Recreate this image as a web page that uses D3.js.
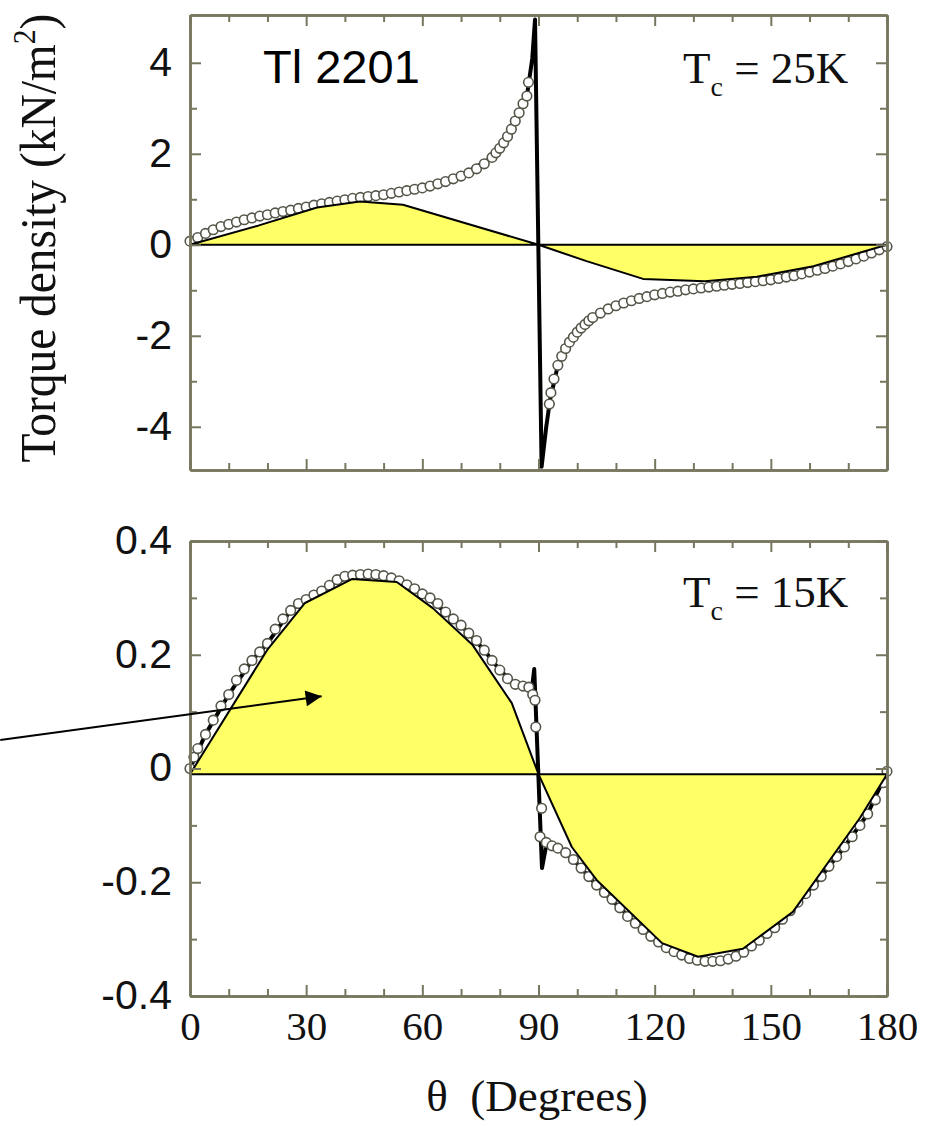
<!DOCTYPE html>
<html>
<head>
<meta charset="utf-8">
<script src="https://cdn.jsdelivr.net/npm/d3@7"></script>
<style>
  body { margin: 0; background: #fff; }
  svg { display: block; }
</style>
</head>
<body>
<svg id="chart" width="927" height="1126"></svg>
<script>
// ---- data ----
const xTicks = [0, 30, 60, 90, 120, 150, 180];
const xTickLabels = ["0", "30", "60", "90", "120", "150", "180"];
const xMinor = d3.range(0, 181, 10);

const topTicks = [-4, -2, 0, 2, 4];
const topTickLabels = ["-4", "-2", "0", "2", "4"];
const topMinor = [-4, -3, -2, -1, 0, 1, 2, 3, 4];
const botTicks = [-0.4, -0.2, 0, 0.2, 0.4];
const botTickLabels = ["-0.4", "-0.2", "0", "0.2", "0.4"];
const botMinor = [-0.3, -0.2, -0.1, 0, 0.1, 0.2, 0.3];

// Tc = 25K: measured torque (open circles)
const topTheta = [0, 2, 4, 6, 8, 10, 12, 14, 16, 18, 20, 22, 24, 26, 28, 30, 32, 34, 36, 38,
  40, 42, 44, 46, 48, 50, 52, 54, 56, 58, 60, 62, 64, 66, 68, 70, 72, 74, 76, 78,
  79, 80, 81, 82, 83, 84, 85, 86, 87, 87.4,
  92.8, 93.2, 94, 95, 96, 97, 98, 99, 100, 101, 102, 103, 104, 106, 108, 110, 112, 114, 116, 118,
  120, 122, 124, 126, 128, 130, 132, 134, 136, 138, 140, 142, 144, 146, 148, 150, 152, 154, 156, 158,
  160, 162, 164, 166, 168, 170, 172, 174, 176, 178, 180];
const topTorque = [0.08, 0.16, 0.25, 0.33, 0.40, 0.45, 0.50, 0.55, 0.59, 0.63, 0.66, 0.70, 0.73, 0.76, 0.80, 0.83, 0.87, 0.90, 0.93, 0.96,
  0.99, 1.02, 1.04, 1.06, 1.08, 1.10, 1.13, 1.16, 1.19, 1.22, 1.25, 1.29, 1.34, 1.39, 1.45, 1.51, 1.58, 1.67, 1.78, 1.92,
  2.02, 2.12, 2.24, 2.38, 2.54, 2.72, 2.90, 3.10, 3.27, 3.57,
  -3.50, -3.25, -2.95, -2.65, -2.45, -2.28, -2.14, -2.03, -1.92, -1.83, -1.75, -1.67, -1.60, -1.50, -1.41, -1.34, -1.28, -1.23, -1.18, -1.14,
  -1.10, -1.07, -1.04, -1.02, -0.99, -0.97, -0.95, -0.93, -0.91, -0.89, -0.87, -0.85, -0.83, -0.81, -0.79, -0.77, -0.74, -0.71, -0.68, -0.64,
  -0.60, -0.56, -0.52, -0.47, -0.42, -0.37, -0.31, -0.25, -0.18, -0.11, -0.04];

// Tc = 25K: fitted curve (thick black)
const topFitTheta = [0, 10, 20, 30, 40, 50, 60, 70, 78, 82, 85, 87, 88.4, 89.1, 90.8, 92, 93, 95, 99, 104,
  110, 120, 130, 140, 150, 160, 170, 180];
const topFitTorque = [0.08, 0.45, 0.66, 0.83, 0.99, 1.10, 1.25, 1.51, 1.92, 2.38, 2.90, 3.27, 4.10, 4.95, -4.88, -4.00, -3.40, -2.65, -2.03, -1.60,
  -1.34, -1.10, -0.97, -0.87, -0.77, -0.60, -0.37, -0.04];

// Tc = 25K: yellow model overlay
const topModelTheta = [0, 17.6, 32.8, 43.9, 55, 90, 102.4, 117, 133, 146.4, 161, 180];
const topModelTorque = [0, 0.42, 0.82, 0.95, 0.88, 0, -0.36, -0.75, -0.80, -0.70, -0.47, 0];

// Tc = 15K: measured torque (open circles)
const botTheta = [0, 1, 2, 4, 6, 8, 10, 12, 14, 16, 18, 20, 22, 24, 26, 28, 30, 32, 34, 36,
  38, 40, 42, 44, 46, 48, 50, 52, 54, 56, 58, 60, 62, 64, 66, 68, 70, 72, 74, 76,
  78, 80, 82, 84, 86, 87.5, 88.5, 89.1, 89.3,
  90.4, 90.8, 92, 93.5, 95, 97, 99, 101, 103, 105, 107, 109, 111, 113, 115, 117, 119, 121, 123, 125,
  127, 129, 131, 133, 135, 137, 139, 141, 143, 145, 147, 149, 151, 153, 155, 157, 159, 161, 163, 165,
  167, 169, 171, 173, 175, 177, 179, 180];
const botTorque = [0.0, 0.02, 0.035, 0.06, 0.085, 0.11, 0.13, 0.155, 0.175, 0.19, 0.205, 0.22, 0.245, 0.263, 0.278, 0.29, 0.297, 0.305, 0.312, 0.322,
  0.332, 0.338, 0.340, 0.341, 0.342, 0.341, 0.339, 0.335, 0.330, 0.323, 0.316, 0.307, 0.300, 0.290, 0.275, 0.263, 0.252, 0.238, 0.225, 0.208,
  0.190, 0.173, 0.158, 0.148, 0.145, 0.143, 0.130, 0.120, 0.073,
  -0.12, -0.07, -0.13, -0.136, -0.14, -0.148, -0.16, -0.175, -0.19, -0.205, -0.218, -0.23, -0.245, -0.26, -0.272, -0.283, -0.295, -0.305, -0.315, -0.322,
  -0.328, -0.334, -0.337, -0.339, -0.339, -0.338, -0.335, -0.330, -0.323, -0.312, -0.302, -0.290, -0.280, -0.265, -0.250, -0.235, -0.220, -0.205, -0.190, -0.172,
  -0.155, -0.138, -0.120, -0.100, -0.080, -0.055, -0.025, -0.005];

// Tc = 15K: fitted curve
const botFitTheta = [0, 4, 10, 16, 20, 26, 30, 36, 42, 46, 50, 56, 60, 66, 70, 76, 80, 84, 86, 88.3,
  88.9, 90.9, 92, 95, 99, 105, 111, 117, 123, 129, 133, 137, 141, 145, 151, 157, 163, 169, 175, 180];
const botFitTorque = [0.0, 0.06, 0.13, 0.19, 0.22, 0.278, 0.297, 0.322, 0.340, 0.342, 0.339, 0.323, 0.307, 0.275, 0.252, 0.208, 0.173, 0.148, 0.145, 0.14,
  0.175, -0.175, -0.135, -0.14, -0.16, -0.205, -0.245, -0.283, -0.315, -0.334, -0.339, -0.338, -0.330, -0.312, -0.280, -0.235, -0.190, -0.138, -0.080, -0.005];

// Tc = 15K: yellow model overlay
const botModelTheta = [0, 19.9, 29.7, 41.8, 53.4, 62.7, 73, 83.1, 90, 98.6, 105, 121.9, 131.2, 142.8, 155.7, 173, 180];
const botModelTorque = [-0.01, 0.208, 0.291, 0.333, 0.328, 0.282, 0.217, 0.115, -0.01, -0.138, -0.196, -0.307, -0.331, -0.317, -0.252, -0.087, -0.01];
const botModelBase = -0.01;

// arrow annotation (bottom panel data coords)
const arrowFrom = [-49, 0.05];
const arrowTo = [34, 0.127];

// ---- drawing ----
const svg = d3.select('#chart');
const frameColor = '#77775f';
const serif = '"Liberation Serif", "DejaVu Serif", serif';
const sans = '"Liberation Sans", Arial, sans-serif';

const x = d3.scaleLinear().domain([0, 180]).range([190, 887]);
const yTop = d3.scaleLinear().domain([-4.95, 5.05]).range([470, 15]);
const yBot = d3.scaleLinear().domain([-0.4, 0.4]).range([996, 541]);

svg.append('defs').append('marker')
    .attr('id', 'arrow-head')
    .attr('viewBox', '0 -5 10 10')
    .attr('refX', 10)
    .attr('refY', 0)
    .attr('markerWidth', 9)
    .attr('markerHeight', 8)
    .attr('markerUnits', 'strokeWidth')
    .attr('orient', 'auto')
    .append('path')
    .attr('d', 'M0,-5L10,0L0,5Z')
    .attr('fill', '#000');

function styleAxis(g) {
    g.select('.domain').attr('stroke', frameColor).attr('stroke-width', 2.5);
    g.selectAll('.tick line').attr('stroke', frameColor).attr('stroke-width', 2);
}

function drawPanel(y, opts) {
    const panel = svg.append('g');
    const [y0, y1] = y.range();

    // fitted curve
    const fitLine = d3.line().x((d, i) => x(opts.fitTheta[i])).y(d => y(d));
    panel.append('path')
        .datum(opts.fitTorque)
        .attr('d', fitLine)
        .attr('fill', 'none')
        .attr('stroke', '#000')
        .attr('stroke-width', 4)
        .attr('stroke-linejoin', 'round');

    // measured points
    panel.append('g').selectAll('circle')
        .data(opts.torque)
        .join('circle')
        .attr('cx', (d, i) => x(opts.theta[i]))
        .attr('cy', d => y(d))
        .attr('r', 4.8)
        .attr('fill', '#fff')
        .attr('stroke', '#55554a')
        .attr('stroke-width', 1.6);

    // yellow model overlay
    const area = d3.area()
        .x((d, i) => x(opts.modelTheta[i]))
        .y0(y(opts.base))
        .y1(d => y(d));
    panel.append('path')
        .datum(opts.modelTorque)
        .attr('d', d => area(d) + 'Z')
        .attr('fill', '#ffff66')
        .attr('stroke', '#000')
        .attr('stroke-width', 2)
        .attr('stroke-linejoin', 'round');

    // frame: ticks pointing inward on all four sides
    const minorX = xMinor.filter(v => !xTicks.includes(v));
    const minorY = opts.minor.filter(v => !opts.ticks.includes(v));
    const axes = [
        ['bottom', d3.axisBottom, x, y0], ['top', d3.axisTop, x, y1]
    ];
    axes.forEach(([side, fn, s, pos]) => {
        panel.append('g').attr('transform', `translate(0,${pos})`)
            .call(fn(s).tickValues(minorX).tickSize(-7).tickSizeOuter(0).tickFormat(''))
            .call(styleAxis);
        const g = panel.append('g').attr('transform', `translate(0,${pos})`)
            .call(fn(s).tickValues(xTicks).tickSize(-11).tickSizeOuter(0).tickPadding(15)
                .tickFormat((d, i) => (side === 'bottom' && opts.xLabels) ? xTickLabels[i] : ''))
            .call(styleAxis);
        g.selectAll('text').attr('font-family', serif).attr('font-size', 41).attr('fill', '#111');
    });
    [['left', d3.axisLeft, 190], ['right', d3.axisRight, 887]].forEach(([side, fn, pos]) => {
        panel.append('g').attr('transform', `translate(${pos},0)`)
            .call(fn(y).tickValues(minorY).tickSize(-7).tickSizeOuter(0).tickFormat(''))
            .call(styleAxis);
        const g = panel.append('g').attr('transform', `translate(${pos},0)`)
            .call(fn(y).tickValues(opts.ticks).tickSize(-11).tickSizeOuter(0).tickPadding(18)
                .tickFormat((d, i) => side === 'left' ? opts.tickLabels[i] : ''))
            .call(styleAxis);
        g.selectAll('text').attr('font-family', sans).attr('font-size', 41)
            .attr('dy', '0.3em').attr('fill', '#111');
    });

    // Tc label
    const t = panel.append('text')
        .attr('x', 683)
        .attr('y', opts.tcY)
        .attr('font-family', serif)
        .attr('font-size', 45)
        .attr('fill', '#111');
    t.append('tspan').text('T');
    t.append('tspan').attr('font-size', 28).attr('dy', 13).text('c');
    t.append('tspan').attr('dy', -13).text(' = ' + opts.tcText);
    return panel;
}

drawPanel(yTop, {
    theta: topTheta, torque: topTorque,
    fitTheta: topFitTheta, fitTorque: topFitTorque,
    modelTheta: topModelTheta, modelTorque: topModelTorque, base: 0,
    ticks: topTicks, tickLabels: topTickLabels, minor: topMinor,
    xLabels: false, tcY: 83, tcText: '25K'
});

drawPanel(yBot, {
    theta: botTheta, torque: botTorque,
    fitTheta: botFitTheta, fitTorque: botFitTorque,
    modelTheta: botModelTheta, modelTorque: botModelTorque, base: botModelBase,
    ticks: botTicks, tickLabels: botTickLabels, minor: botMinor,
    xLabels: true, tcY: 607, tcText: '15K'
});

// sample name
svg.append('text')
    .attr('x', 263)
    .attr('y', 83)
    .attr('font-family', sans)
    .attr('font-size', 47)
    .attr('fill', '#000')
    .text('Tl 2201');

// arrow
svg.append('line')
    .attr('x1', x(arrowFrom[0]))
    .attr('y1', yBot(arrowFrom[1]))
    .attr('x2', x(arrowTo[0]))
    .attr('y2', yBot(arrowTo[1]))
    .attr('stroke', '#000')
    .attr('stroke-width', 2)
    .attr('marker-end', 'url(#arrow-head)');

// axis titles
svg.append('text')
    .attr('x', 537)
    .attr('y', 1111)
    .attr('text-anchor', 'middle')
    .attr('font-family', serif)
    .attr('font-size', 45)
    .attr('fill', '#111')
    .text('θ\u00a0 (Degrees)');

const yTitle = svg.append('text')
    .attr('transform', 'translate(55,238) rotate(-90) scale(0.93,1)')
    .attr('text-anchor', 'middle')
    .attr('font-family', serif)
    .attr('font-size', 51)
    .attr('fill', '#111');
yTitle.append('tspan').text('Torque density (kN/m');
yTitle.append('tspan').attr('font-size', 32).attr('dy', -20).text('2');
yTitle.append('tspan').attr('dy', 20).text(')');
</script>
</body>
</html>
